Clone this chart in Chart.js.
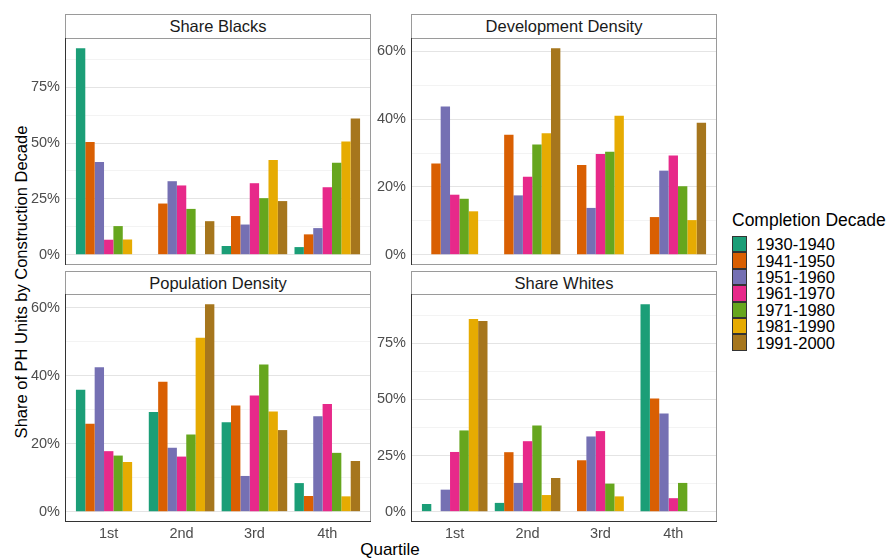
<!DOCTYPE html>
<html>
<head>
<meta charset="utf-8">
<script src="https://cdn.jsdelivr.net/npm/chart.js@4/dist/chart.umd.min.js"></script>
<style>
  html, body { margin: 0; padding: 0; background: #fff; }
  body { width: 886px; height: 558px; position: relative; overflow: hidden;
         font-family: "Liberation Sans", Arial, Helvetica, sans-serif; }
  canvas { position: absolute; }
  .strip { position: absolute; box-sizing: border-box; background: #fff;
           border: 1px solid #9a9a9a; border-bottom: 1px solid #333;
           color: #1a1a1a; font-size: 16.5px; text-align: center; }
  .ytitle { position: absolute; left: 21px; top: 282px; white-space: nowrap;
            transform: translate(-50%, -50%) rotate(-90deg); font-size: 16.5px; color: #000; }
  .xtitle { position: absolute; left: 390px; top: 550px; white-space: nowrap;
            transform: translate(-50%, -50%); font-size: 17px; color: #000; }
  .legend-title { position: absolute; left: 732px; top: 220px; transform: translateY(-50%);
                  font-size: 17.5px; white-space: nowrap; color: #000; }
  .key { position: absolute; left: 732px; width: 15px; box-sizing: border-box;
         border: 1px solid #333; }
  .key-label { position: absolute; left: 756px; font-size: 16.5px; white-space: nowrap;
               transform: translateY(-50%); color: #000; }
</style>
</head>
<body>
<div class="ytitle">Share of PH Units by Construction Decade</div>
<div class="xtitle">Quartile</div>
<div class="legend-title">Completion Decade</div>

<script>
// Quartile categories and construction decades
const quartiles = ['1st', '2nd', '3rd', '4th'];
const decades = ['1930-1940', '1941-1950', '1951-1960', '1961-1970', '1971-1980', '1981-1990', '1991-2000'];
const decadeColors = ['#1B9E77', '#D95F02', '#7570B3', '#E7298A', '#66A61E', '#E6AB02', '#A6761D'];

// Share of units (%) per decade (rows) across quartiles (columns)
const shareBlacks = [
  [92.4, null, 3.9, 3.4],
  [50.4, 22.9, 17.3, 9.1],
  [41.5, 32.9, 13.5, 11.9],
  [6.7, 31.0, 32.0, 30.2],
  [12.8, 20.5, 25.3, 41.2],
  [6.8, null, 42.4, 50.7],
  [null, 15.0, 24.0, 61.0]
];
const developmentDensity = [
  [null, null, null, null],
  [26.9, 35.4, 26.5, 11.1],
  [43.7, 17.5, 13.8, 24.8],
  [17.7, 23.0, 29.7, 29.3],
  [16.5, 32.5, 30.4, 20.2],
  [12.8, 35.8, 41.0, 10.2],
  [null, 60.9, null, 38.9]
];
const populationDensity = [
  [35.9, 29.3, 26.3, 8.4],
  [25.9, 38.2, 31.2, 4.6],
  [42.5, 18.8, 10.5, 28.1],
  [17.8, 16.2, 34.2, 31.7],
  [16.5, 22.7, 43.3, 17.3],
  [14.6, 51.2, 29.5, 4.5],
  [null, 61.0, 24.0, 14.9]
];
const shareWhites = [
  [3.4, 3.9, null, 92.4],
  [null, 26.5, 22.9, 50.4],
  [9.8, 12.8, 33.5, 43.8],
  [26.6, 31.4, 35.9, 6.0],
  [36.2, 38.4, 12.5, 12.8],
  [85.9, 7.4, 6.8, null],
  [85.0, 15.0, null, null]
];

// Facet definitions: title, data, y tick step, panel box
const facets = [
  { title: 'Share Blacks',        data: shareBlacks,        step: 25, left: 65,  top: 38,  w: 306, h: 227, stripTop: 14,  xAxis: false },
  { title: 'Development Density', data: developmentDensity, step: 20, left: 411, top: 38,  w: 306, h: 227, stripTop: 14,  xAxis: false },
  { title: 'Population Density',  data: populationDensity,  step: 20, left: 65,  top: 294, w: 306, h: 228, stripTop: 271, xAxis: true },
  { title: 'Share Whites',        data: shareWhites,        step: 25, left: 411, top: 294, w: 306, h: 228, stripTop: 271, xAxis: true }
];

const Y_AXIS_W = 60;
const X_AXIS_H = 26;
const PAD = 2;

// Panel border with darker axis lines on the left (and bottom for lower panels)
const panelFrame = {
  id: 'panelFrame',
  afterDatasetsDraw(chart, args, opts) {
    const { ctx, chartArea: a } = chart;
    ctx.save();
    ctx.lineWidth = 1;
    ctx.strokeStyle = '#9a9a9a';
    ctx.strokeRect(a.left + 0.5, a.top + 0.5, a.right - a.left - 1, a.bottom - a.top - 1);
    ctx.strokeStyle = '#333';
    ctx.beginPath();
    ctx.moveTo(a.left + 0.5, a.top);
    ctx.lineTo(a.left + 0.5, a.bottom);
    if (opts.bottomAxis) {
      ctx.moveTo(a.left, a.bottom - 0.5);
      ctx.lineTo(a.right, a.bottom - 0.5);
    }
    ctx.stroke();
    ctx.restore();
  }
};

const tickFont = { family: '"Liberation Sans", Arial, sans-serif', size: 14.5 };

// remove the edge padding Chart.js reserves for overhanging tick labels
const noEdgePadding = s => {
  s.paddingTop = 0; s.paddingBottom = 0; s.paddingLeft = 0; s.paddingRight = 0;
};

facets.forEach(f => {
  // strip label
  const strip = document.createElement('div');
  strip.className = 'strip';
  strip.style.left = f.left + 'px';
  strip.style.top = f.stripTop + 'px';
  strip.style.width = f.w + 'px';
  strip.style.height = (f.top - f.stripTop + 1) + 'px';
  strip.style.lineHeight = (f.top - f.stripTop - 1) + 'px';
  strip.textContent = f.title;
  document.body.appendChild(strip);

  // canvas covering y labels + panel (+ x labels)
  const canvas = document.createElement('canvas');
  const cw = Y_AXIS_W + f.w + PAD;
  const ch = PAD + f.h + (f.xAxis ? X_AXIS_H : PAD);
  canvas.width = cw; canvas.height = ch;
  canvas.style.width = cw + 'px'; canvas.style.height = ch + 'px';
  canvas.style.left = (f.left - Y_AXIS_W) + 'px';
  canvas.style.top = (f.top - PAD) + 'px';
  document.body.appendChild(canvas);

  const allVals = f.data.flat().filter(v => v !== null);
  const dataMax = Math.max(...allVals);
  const yMin = -0.05 * dataMax;
  const yMax = 1.05 * dataMax;
  const half = f.step / 2;

  const datasets = decades.map((d, k) => ({
    label: d,
    data: f.data[k].map((v, i) => ({ x: i + 1, y: v })),
    backgroundColor: decadeColors[k],
    borderWidth: 0,
    categoryPercentage: 0.9,
    barPercentage: 1.0
  }));

  new Chart(canvas, {
    type: 'bar',
    data: { datasets },
    plugins: [panelFrame],
    options: {
      responsive: false,
      animation: false,
      devicePixelRatio: 1,
      layout: { padding: { top: PAD, right: PAD, bottom: f.xAxis ? 0 : PAD, left: 0 } },
      plugins: { legend: { display: false }, tooltip: { enabled: false }, panelFrame: { bottomAxis: f.xAxis } },
      scales: {
        x: {
          type: 'linear',
          min: 0.4,
          max: 4.6,
          offset: false,
          grid: { display: false, drawTicks: false },
          border: { display: false },
          afterBuildTicks: s => { s.ticks = quartiles.map((q, i) => ({ value: i + 1 })); },
          afterFit: s => { s.height = f.xAxis ? X_AXIS_H : 0; noEdgePadding(s); },
          ticks: {
            display: f.xAxis,
            autoSkip: false,
            maxRotation: 0,
            padding: 3,
            color: '#4d4d4d',
            font: tickFont,
            callback: v => quartiles[Math.round(v) - 1]
          }
        },
        y: {
          type: 'linear',
          min: yMin,
          max: yMax,
          border: { display: false },
          afterBuildTicks: s => {
            const t = [];
            for (let v = 0; v <= yMax; v += half) t.push({ value: v });
            s.ticks = t;
          },
          afterFit: s => { s.width = Y_AXIS_W; noEdgePadding(s); },
          grid: {
            drawTicks: false,
            lineWidth: 1,
            color: c => (c.tick && c.tick.value % f.step === 0) ? '#e4e4e4' : '#f3f3f3'
          },
          ticks: {
            autoSkip: false,
            padding: 5,
            color: '#4d4d4d',
            font: tickFont,
            callback: v => (v % f.step === 0) ? v + '%' : ''
          }
        }
      }
    }
  });
});

// legend keys
decades.forEach((d, k) => {
  const top = 236 + k * 16.4;
  const key = document.createElement('div');
  key.className = 'key';
  key.style.top = top + 'px';
  key.style.height = '16.4px';
  key.style.background = decadeColors[k];
  document.body.appendChild(key);
  const lab = document.createElement('div');
  lab.className = 'key-label';
  lab.style.top = (top + 8.2) + 'px';
  lab.textContent = d;
  document.body.appendChild(lab);
});
</script>
</body>
</html>
